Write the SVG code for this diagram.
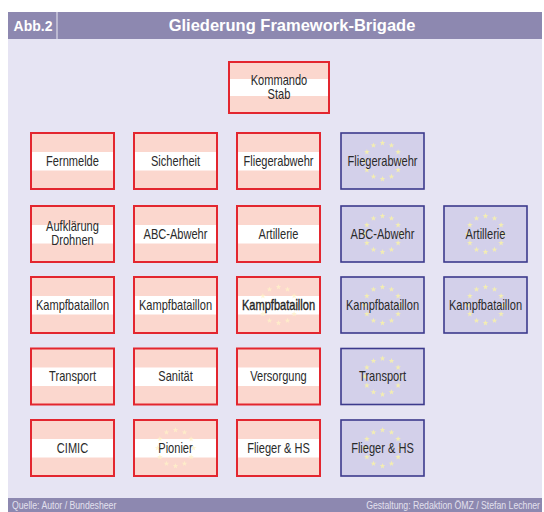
<svg xmlns="http://www.w3.org/2000/svg" xmlns:xlink="http://www.w3.org/1999/xlink" width="544" height="512" viewBox="0 0 544 512">
<style>
.band{fill:#8d88b0}
.bg{fill:#e6e4f3}
.at{fill:#fbd7ce;stroke:#e3262f;stroke-width:2}
.stripe{fill:#ffffff}
.eu{fill:#d3d0ea;stroke:#3d3a8c;stroke-width:1.6}
.lbl{font-family:"Liberation Sans",Arial,sans-serif;font-size:14px;fill:#2a2a2a;text-anchor:middle;transform-box:fill-box;transform-origin:center;transform:scaleX(0.79)}
.hd{font-family:"Liberation Sans",Arial,sans-serif;font-weight:bold;fill:#ffffff}
.ft{font-family:"Liberation Sans",Arial,sans-serif;font-size:10px;fill:#e2e0ee;transform-box:fill-box;transform:scaleX(0.87)}
.ftl{transform-origin:left center}
.ftr{transform-origin:right center}
.star{fill:#f3edb2}
.faint{fill:#fff3c8;opacity:0.75}
</style>
<defs>
<polygon id="st" points="0,-3 0.705,-0.971 2.853,-0.927 1.141,0.371 1.763,2.427 0,1.2 -1.763,2.427 -1.141,0.371 -2.853,-0.927 -0.705,-0.971"/>
<g id="ring">
<use xlink:href="#st" x="0" y="-18"/>
<use xlink:href="#st" x="9" y="-15.6"/>
<use xlink:href="#st" x="15.6" y="-9"/>
<use xlink:href="#st" x="18" y="0"/>
<use xlink:href="#st" x="15.6" y="9"/>
<use xlink:href="#st" x="9" y="15.6"/>
<use xlink:href="#st" x="0" y="18"/>
<use xlink:href="#st" x="-9" y="15.6"/>
<use xlink:href="#st" x="-15.6" y="9"/>
<use xlink:href="#st" x="-18" y="0"/>
<use xlink:href="#st" x="-15.6" y="-9"/>
<use xlink:href="#st" x="-9" y="-15.6"/>
</g>
</defs>
<rect width="544" height="512" fill="#ffffff"/>
<rect class="bg" x="8" y="39" width="534" height="459"/>
<g id="header">
<rect class="band" x="8" y="12" width="534" height="27"/>
<line x1="57" y1="12" x2="57" y2="39" stroke="#ffffff" stroke-width="1.2" opacity="0.7"/>
<text class="hd" x="33" y="31" font-size="14" text-anchor="middle">Abb.2</text>
<text class="hd" x="292" y="31" font-size="16.5" text-anchor="middle">Gliederung Framework-Brigade</text>
</g>
<g id="footer">
<rect class="band" x="8" y="498" width="534" height="14"/>
<text class="ft ftl" x="12" y="509">Quelle: Autor / Bundesheer</text>
<text class="ft ftr" x="540" y="509" text-anchor="end">Gestaltung: Redaktion ÖMZ / Stefan Lechner</text>
</g>
<g id="connectors"></g>

<g id="kommando-stab">
<rect class="at" x="229" y="62" width="100" height="51"/>
<rect class="stripe" x="230" y="79" width="98" height="17"/>
<text class="lbl" x="279" y="85">Kommando</text>
<text class="lbl" x="279" y="99">Stab</text>
</g>

<!-- Row 1 -->
<g id="fernmelde">
<rect class="at" x="31" y="133" width="83" height="56"/>
<rect class="stripe" x="32" y="152" width="81" height="18.5"/>
<text class="lbl" x="72.5" y="166">Fernmelde</text>
</g>
<g id="sicherheit">
<rect class="at" x="134" y="133" width="83" height="56"/>
<rect class="stripe" x="135" y="152" width="81" height="18.5"/>
<text class="lbl" x="175.5" y="166">Sicherheit</text>
</g>
<g id="fliegerabwehr-at">
<rect class="at" x="237" y="133" width="83" height="56"/>
<rect class="stripe" x="238" y="152" width="81" height="18.5"/>
<text class="lbl" x="278.5" y="166">Fliegerabwehr</text>
</g>
<g id="fliegerabwehr-eu">
<rect class="eu" x="341" y="133" width="83" height="56"/>
<use xlink:href="#ring" class="star" x="382.5" y="161"/>
<text class="lbl" x="382.5" y="166">Fliegerabwehr</text>
</g>

<!-- Row 2 -->
<g id="aufklaerung-drohnen">
<rect class="at" x="31" y="206" width="83" height="56"/>
<rect class="stripe" x="32" y="225" width="81" height="18.5"/>
<text class="lbl" x="72.5" y="231">Aufklärung</text>
<text class="lbl" x="72.5" y="245">Drohnen</text>
</g>
<g id="abc-abwehr-at">
<rect class="at" x="134" y="206" width="83" height="56"/>
<rect class="stripe" x="135" y="225" width="81" height="18.5"/>
<text class="lbl" x="175.5" y="239">ABC-Abwehr</text>
</g>
<g id="artillerie-at">
<rect class="at" x="237" y="206" width="83" height="56"/>
<rect class="stripe" x="238" y="225" width="81" height="18.5"/>
<text class="lbl" x="278.5" y="239">Artillerie</text>
</g>
<g id="abc-abwehr-eu">
<rect class="eu" x="341" y="206" width="83" height="56"/>
<use xlink:href="#ring" class="star" x="382.5" y="234"/>
<text class="lbl" x="382.5" y="239">ABC-Abwehr</text>
</g>
<g id="artillerie-eu">
<rect class="eu" x="444" y="206" width="83" height="56"/>
<use xlink:href="#ring" class="star" x="485.5" y="234"/>
<text class="lbl" x="485.5" y="239">Artillerie</text>
</g>

<!-- Row 3 -->
<g id="kampfbataillon-1">
<rect class="at" x="31" y="277" width="83" height="56"/>
<rect class="stripe" x="32" y="296" width="81" height="18.5"/>
<text class="lbl" x="72.5" y="310">Kampfbataillon</text>
</g>
<g id="kampfbataillon-2">
<rect class="at" x="134" y="277" width="83" height="56"/>
<rect class="stripe" x="135" y="296" width="81" height="18.5"/>
<text class="lbl" x="175.5" y="310">Kampfbataillon</text>
</g>
<g id="kampfbataillon-3">
<rect class="at" x="237" y="277" width="83" height="56"/>
<rect class="stripe" x="238" y="296" width="81" height="18.5"/>
<use xlink:href="#ring" class="faint" x="278.5" y="305"/>
<text class="lbl" x="278.5" y="310" stroke="#1a1a1a" stroke-width="0.35" fill="#111">Kampfbataillon</text>
</g>
<g id="kampfbataillon-eu-1">
<rect class="eu" x="341" y="277" width="83" height="56"/>
<use xlink:href="#ring" class="star" x="382.5" y="305"/>
<text class="lbl" x="382.5" y="310">Kampfbataillon</text>
</g>
<g id="kampfbataillon-eu-2">
<rect class="eu" x="444" y="277" width="83" height="56"/>
<use xlink:href="#ring" class="star" x="485.5" y="305"/>
<text class="lbl" x="485.5" y="310">Kampfbataillon</text>
</g>

<!-- Row 4 -->
<g id="transport-at">
<rect class="at" x="31" y="348.5" width="83" height="56"/>
<rect class="stripe" x="32" y="367.5" width="81" height="18.5"/>
<text class="lbl" x="72.5" y="381.5">Transport</text>
</g>
<g id="sanitaet">
<rect class="at" x="134" y="348.5" width="83" height="56"/>
<rect class="stripe" x="135" y="367.5" width="81" height="18.5"/>
<text class="lbl" x="175.5" y="381.5">Sanität</text>
</g>
<g id="versorgung">
<rect class="at" x="237" y="348.5" width="83" height="56"/>
<rect class="stripe" x="238" y="367.5" width="81" height="18.5"/>
<text class="lbl" x="278.5" y="381.5">Versorgung</text>
</g>
<g id="transport-eu">
<rect class="eu" x="341" y="348.5" width="83" height="56"/>
<use xlink:href="#ring" class="star" x="382.5" y="376.5"/>
<text class="lbl" x="382.5" y="381.5">Transport</text>
</g>

<!-- Row 5 -->
<g id="cimic">
<rect class="at" x="31" y="420" width="83" height="56"/>
<rect class="stripe" x="32" y="439" width="81" height="18.5"/>
<text class="lbl" x="72.5" y="453">CIMIC</text>
</g>
<g id="pionier">
<rect class="at" x="134" y="420" width="83" height="56"/>
<rect class="stripe" x="135" y="439" width="81" height="18.5"/>
<use xlink:href="#ring" class="faint" x="175.5" y="448"/>
<text class="lbl" x="175.5" y="453">Pionier</text>
</g>
<g id="flieger-hs-at">
<rect class="at" x="237" y="420" width="83" height="56"/>
<rect class="stripe" x="238" y="439" width="81" height="18.5"/>
<text class="lbl" x="278.5" y="453">Flieger &amp; HS</text>
</g>
<g id="flieger-hs-eu">
<rect class="eu" x="341" y="420" width="83" height="56"/>
<use xlink:href="#ring" class="star" x="382.5" y="448"/>
<text class="lbl" x="382.5" y="453">Flieger &amp; HS</text>
</g>
</svg>
